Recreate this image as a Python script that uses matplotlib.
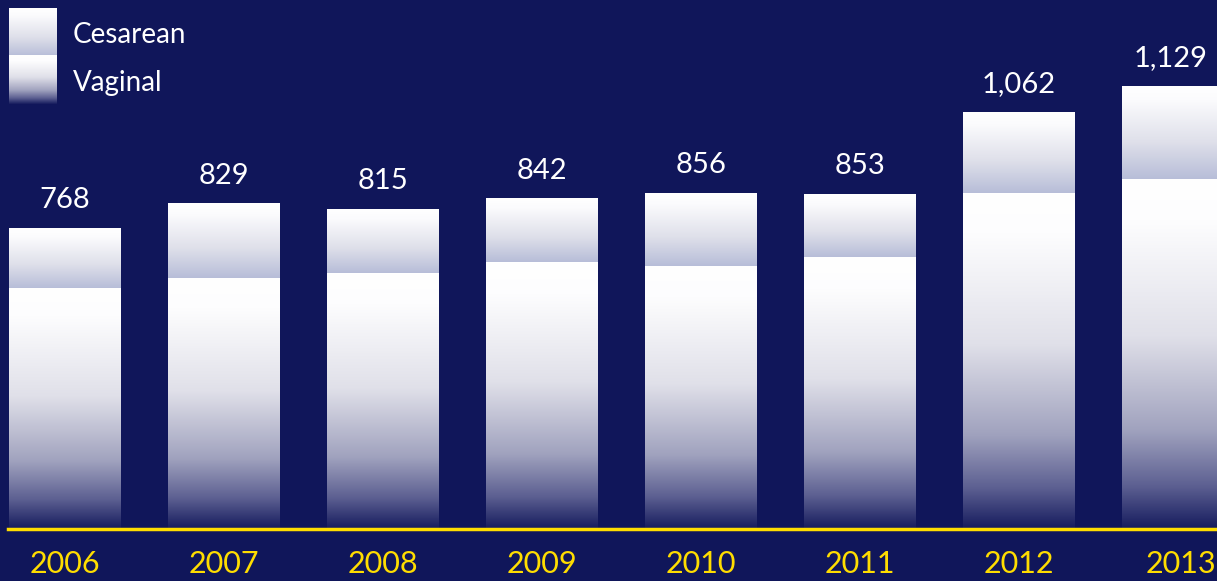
import numpy as np
import matplotlib.pyplot as plt
from matplotlib.colors import LinearSegmentedColormap
from matplotlib.transforms import ScaledTranslation

# dati
anni = ['2006', '2007', '2008', '2009', '2010', '2011', '2012', '2013']
vaginali = [615, 640, 653, 681, 671, 694, 857, 893]
cesarei = [153, 189, 162, 161, 185, 159, 205, 236]
totali = ['768', '829', '815', '842', '856', '853', '1,062', '1,129']

sfondo = '#10165a'
giallo = '#ffdd00'

# sfumature dei segmenti
cmap_vag = LinearSegmentedColormap.from_list('vag', [
    (0.0, '#ffffff'), (0.12, '#fdfdfe'), (0.45, '#e0e0e9'),
    (0.72, '#a0a2be'), (0.88, '#5c5f91'), (1.0, '#161c5e')])
cmap_ces = LinearSegmentedColormap.from_list('ces', [
    (0.0, '#ffffff'), (0.15, '#fbfbfd'), (0.6, '#dfe0ea'), (1.0, '#b7bdd8')])

grad = np.linspace(0, 1, 256).reshape(-1, 1)

fig = plt.figure(figsize=(12.17, 5.81), dpi=100, facecolor=sfondo)
ax = fig.add_axes([0, 52 / 581, 1, 529 / 581])
ax.set_facecolor(sfondo)

larghezza = 112 / 159
x = np.arange(len(anni))

for i in x:
    x0 = i - larghezza / 2
    x1 = i + larghezza / 2
    v = vaginali[i]
    c = cesarei[i]
    ax.imshow(grad, cmap=cmap_vag, extent=[x0, x1, 0, v], aspect='auto', origin='upper', zorder=2)
    ax.imshow(grad, cmap=cmap_ces, extent=[x0, x1, v, v + c], aspect='auto', origin='upper', zorder=2)
    # l'ultima etichetta sta un po' a sinistra per non uscire dal bordo
    dx = -5 if i == len(anni) - 1 else 0
    ax.annotate(totali[i], (i, v + c), xytext=(dx, 11), textcoords='offset points',
                ha='center', va='bottom', color='white', fontsize=21, family='Lato')

ax.set_xlim(-65 / 159, (1217 - 65) / 159)
ax.set_ylim(0, 529 / 0.392)

# linea gialla di base
ax.axhline(0, xmin=8 / 1217, xmax=1, color=giallo, linewidth=2.5, zorder=3, clip_on=False)

for s in ax.spines.values():
    s.set_visible(False)
ax.set_yticks([])
ax.set_xticks(x)
ax.set_xticklabels(anni, color=giallo, fontsize=22, family='Lato')
ax.tick_params(axis='x', length=0, pad=15)
# l'ultimo anno è spostato un po' a destra
ultimo = ax.get_xticklabels()[-1]
ultimo.set_transform(ultimo.get_transform() + ScaledTranslation(0.025, 0, fig.dpi_scale_trans))

# legenda con i quadrati sfumati
lax = fig.add_axes([9 / 1217, 1 - 104 / 581, 48 / 1217, 96 / 581])
lax.imshow(grad, cmap=cmap_ces, extent=[0, 1, 1, 2], aspect='auto', origin='upper')
lax.imshow(grad, cmap=cmap_vag, extent=[0, 1, 0, 1], aspect='auto', origin='upper')
lax.set_xlim(0, 1)
lax.set_ylim(0, 2)
lax.axis('off')
fig.text(73 / 1217, 1 - 35 / 581, 'Cesarean', color='white', fontsize=20, family='Lato', va='center')
fig.text(73 / 1217, 1 - 83 / 581, 'Vaginal', color='white', fontsize=20, family='Lato', va='center')

fig.savefig('out.png', dpi=100, facecolor=sfondo)
